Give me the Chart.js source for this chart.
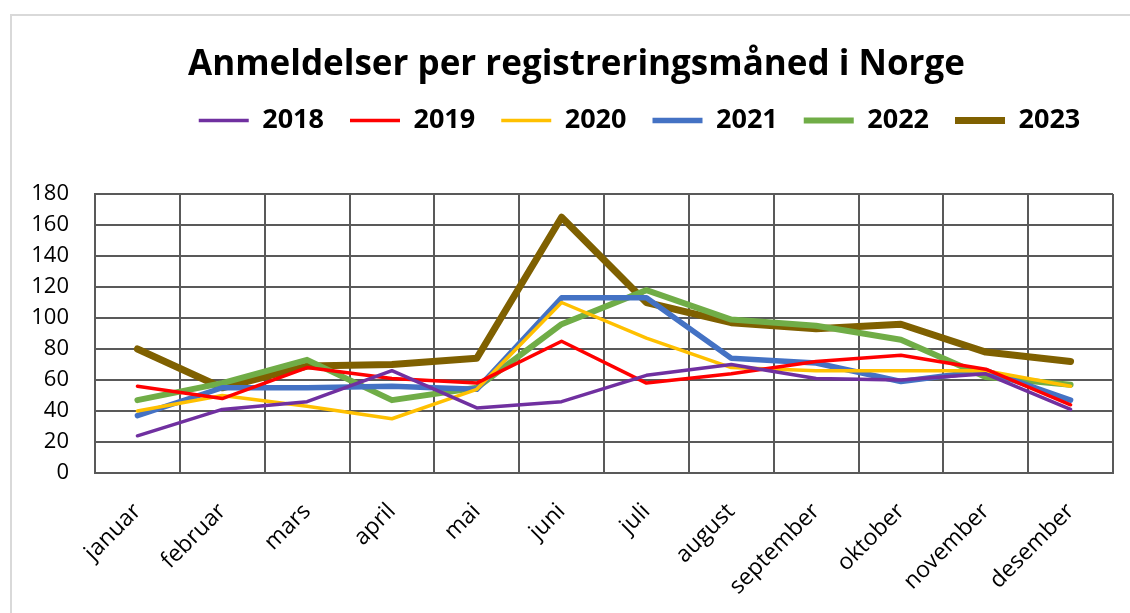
<!DOCTYPE html>
<html>
<head>
<meta charset="utf-8">
<script src="https://cdn.jsdelivr.net/npm/chart.js@4.4.1/dist/chart.umd.min.js"></script>
<style>
  html, body { margin: 0; padding: 0; background: #fff; }
  #frame { position: absolute; left: 10px; top: 14px; width: 1130px; height: 610px; border-left: 2px solid #d9d9d9; border-top: 2px solid #d9d9d9; box-sizing: border-box; }
  #wrap { position: absolute; left: 0; top: 0; width: 1130px; height: 613px; }
</style>
</head>
<body>
<div id="frame"></div>
<div id="wrap"><canvas id="c" width="1130" height="613"></canvas></div>
<script>
const months = ["januar","februar","mars","april","mai","juni","juli","august","september","oktober","november","desember"];
const yearLabels = ["2018","2019","2020","2021","2022","2023"];
const s2018 = [24, 41, 46, 66, 42, 46, 63, 70, 61, 60, 64, 41];
const s2019 = [56, 48, 68, 61, 58, 85, 58, 64, 72, 76, 67, 44];
const s2020 = [40, 50, 43, 35, 54, 110, 87, 68, 66, 66, 66, 56];
const s2021 = [37, 55, 55, 56, 54, 113, 113, 74, 71, 59, 66, 47];
const s2022 = [47, 58, 73, 47, 55, 96, 118, 99, 95, 86, 62, 57];
const s2023 = [80, 55, 69, 70, 74, 165, 110, 97, 93, 96, 78, 72];
const yTicks = [0, 20, 40, 60, 80, 100, 120, 140, 160, 180];

const seriesValues = [s2018, s2019, s2020, s2021, s2022, s2023];
const colors = ["#7030A0", "#FF0000", "#FFC000", "#4472C4", "#70AD47", "#7F6000"];
const widths = [3.5, 3.5, 3.5, 5.5, 6, 7];

const datasets = yearLabels.map((lab, i) => ({
  label: lab,
  data: seriesValues[i],
  borderColor: colors[i],
  backgroundColor: colors[i],
  borderWidth: widths[i],
  pointRadius: 0,
  pointHoverRadius: 0,
  tension: 0,
  borderCapStyle: 'round',
  borderJoinStyle: 'round',
  fill: false
}));

const legendSpacer = {
  id: 'legendSpacer',
  beforeInit(chart) {
    const orig = chart.legend.fit;
    chart.legend.fit = function () {
      orig.bind(chart.legend)();
      this.height += 45;
    };
  },
  afterLayout(chart) {
    const lg = chart.legend;
    lg.left += 73;
    lg.right += 73;
    lg.top -= 5;
    lg.bottom -= 5;
    const tb = chart.titleBlock;
    tb.left += 10;
    tb.right += 10;
  }
};

new Chart(document.getElementById('c'), {
  type: 'line',
  data: { labels: months, datasets },
  plugins: [legendSpacer],
  options: {
    responsive: false,
    animation: false,
    events: [],
    layout: { padding: { left: 20, right: 17, top: 20, bottom: 0 } },
    plugins: {
      tooltip: { enabled: false },
      title: {
        display: true,
        text: 'Anmeldelser per registreringsmåned i Norge',
        color: '#000',
        font: { family: '"Open Sans", sans-serif', size: 35, weight: 'bold' },
        padding: { top: 24, bottom: 0 }
      },
      legend: {
        display: true,
        position: 'top',
        labels: {
          color: '#000',
          font: { family: '"Open Sans", sans-serif', size: 27, weight: 'bold' },
          usePointStyle: true,
          pointStyle: 'line',
          pointStyleWidth: 50,
          padding: 26
        }
      }
    },
    scales: {
      x: {
        type: 'category',
        offset: true,
        grid: { display: true, offset: true, color: '#595959', lineWidth: 2, drawTicks: false },
        border: { display: true, color: '#595959', width: 2 },
        ticks: {
          color: '#000',
          font: { family: '"Open Sans", sans-serif', size: 23 },
          maxRotation: 45, minRotation: 45,
          padding: 25,
          autoSkip: false
        },
        afterFit(scale) { scale.height = 140; }
      },
      y: {
        min: 0, max: 180,
        afterBuildTicks(scale) { scale.ticks = yTicks.map(v => ({ value: v })); },
        grid: { color: '#595959', lineWidth: 2, drawTicks: false },
        border: { display: true, color: '#595959', width: 2 },
        ticks: {
          color: '#000',
          font: { family: '"Open Sans", sans-serif', size: 22 },
          padding: 26
        },
        afterFit(scale) { scale.width = 75; }
      }
    }
  }
});
</script>
</body>
</html>
